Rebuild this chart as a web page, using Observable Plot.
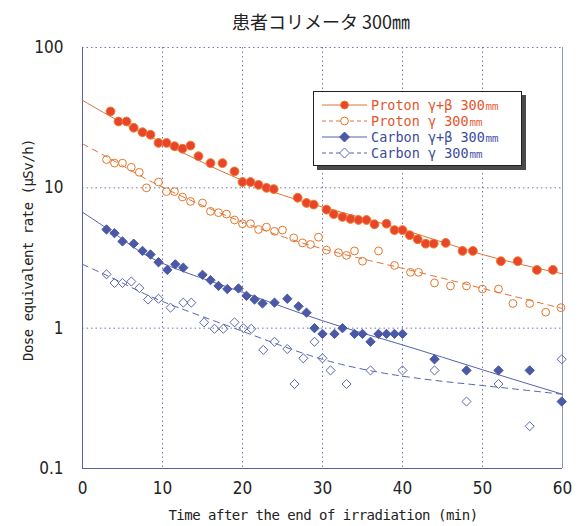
<!DOCTYPE html>
<html>
<head>
<meta charset="utf-8">
<script src="https://cdn.jsdelivr.net/npm/d3@7"></script>
<script src="https://cdn.jsdelivr.net/npm/@observablehq/plot@0.6"></script>
<style>
  body { margin: 0; background: #fff; }
  #chart { position: relative; width: 581px; height: 526px; overflow: hidden; background: #fff; }
  #chart svg.plot { position: absolute; left: 0; top: 0; }
  .title { position: absolute; left: 0; width: 642px; top: 9px; text-align: center;
           font-family: "Noto Sans CJK JP", sans-serif; font-size: 18px; color: #222; line-height: 24px; }
  .mono { font-family: "DejaVu Sans Mono", "Liberation Mono", monospace; font-size: 14px;
          letter-spacing: -0.5px; color: #222; white-space: nowrap; }
  .xtitle { position: absolute; left: 0; width: 646px; top: 505px; text-align: center; line-height: 20px; }
  .ytitle { position: absolute; left: 28px; top: 250px; transform: translate(-50%, -50%) rotate(-90deg);
            line-height: 20px; }
  #legend { position: absolute; left: 313px; top: 91px; width: 207px; height: 73px;
            border: 1.5px solid #222; background: #fff; box-shadow: 4px 4px 0 #4a4a4a; }
  #legend .row { position: absolute; left: 6px; height: 14px; display: flex; align-items: center; }
  #legend .row span { display: inline-block; height: 14px; line-height: 14px; margin-left: 3px;
                      font-size: 13.5px; letter-spacing: 0px; }
</style>
</head>
<body>
<div id="chart">
  <div class="title">患者コリメータ 300㎜</div>
  <div class="mono xtitle">Time after the end of irradiation (min)</div>
  <div class="mono ytitle">Dose equivalent rate (μSv/h)</div>
</div>
<script>
// Axis ticks
const xTicks = [0, 10, 20, 30, 40, 50, 60];
const xGrid = [10, 20, 30, 40, 50];
const yTicks = [0.1, 1, 10, 100];
const yTickLabels = ["0.1", "1", "10", "100"];
const yGrid = [1, 10, 100];

// Proton γ+β, 300 mm collimator (filled circles)
const protonGBTime = [3.5, 4.5, 5.5, 6.4, 7.5, 8.5, 9.5, 10.5, 11.5, 12.5, 13.5, 14.5, 16, 17.5, 19, 20, 21, 22, 23, 23.9,
  26.9, 28, 28.9, 30.5, 31.4, 32.5, 33.5, 34.5, 35.5, 36.5, 38, 39, 40, 40.9, 41.9, 42.9, 43.9, 45.4, 47.5, 48.8,
  52.3, 54.4, 56.8, 58.8];
const protonGBRate = [35.0, 29.7, 29.7, 26.8, 24.9, 23.9, 20.9, 20.9, 19.8, 19.0, 20.0, 16.8, 15.0, 15.0, 13.1, 11.0, 11.0, 10.5, 10.0, 9.8,
  8.5, 7.8, 7.6, 7.0, 6.5, 6.2, 6.0, 5.9, 5.9, 5.5, 5.55, 5.0, 5.0, 4.6, 4.3, 4.0, 4.0, 4.05, 3.55, 3.55,
  3.0, 3.0, 2.6, 2.6];

// Proton γ only (open circles)
const protonGTime = [3.0, 4.0, 5.0, 6.1, 7.1, 8.0, 9.5, 10.5, 11.5, 12.5, 13.5, 15.0, 16.0, 17.0, 18.0, 19.0, 20.0, 21.0, 22.0, 23.0,
  24.0, 25.0, 26.4, 27.5, 28.5, 29.5, 30.5, 32.0, 33.0, 34.0, 35.0, 37.0, 39.0, 41.0, 42.0, 44.0, 46.0, 48.0, 50.0, 52.0,
  53.8, 55.9, 57.9, 59.8];
const protonGRate = [15.9, 15.0, 15.0, 14.0, 12.9, 10.0, 11.0, 9.4, 9.4, 8.6, 8.0, 7.8, 6.8, 6.65, 6.5, 5.9, 5.55, 5.55, 5.05, 5.25,
  4.9, 5.0, 4.4, 4.05, 3.95, 4.45, 3.6, 3.45, 3.3, 3.55, 3.0, 3.55, 2.8, 2.5, 2.5, 2.1, 2.0, 2.0, 1.9, 1.9,
  1.5, 1.5, 1.3, 1.4];

// Carbon γ+β (filled diamonds)
const carbonGBTime = [3.0, 4.0, 5.0, 6.4, 7.5, 8.5, 9.5, 10.6, 11.6, 12.6, 15.0, 16.0, 17.0, 18.1, 19.5, 20.5, 21.5, 22.5, 24.0, 25.6,
  27.0, 28.0, 29.0, 30.0, 31.5, 32.5, 34.0, 35.0, 36.0, 37.0, 38.0, 39.0, 40.0, 44.0, 48.0, 52.0, 55.9, 59.9];
const carbonGBRate = [5.05, 4.75, 4.15, 4.0, 3.55, 3.35, 2.95, 2.6, 2.85, 2.7, 2.4, 2.2, 2.0, 1.9, 1.92, 1.7, 1.6, 1.5, 1.52, 1.62,
  1.43, 1.29, 1.0, 0.91, 0.91, 1.0, 0.91, 0.91, 0.8, 0.91, 0.91, 0.91, 0.91, 0.6, 0.5, 0.5, 0.5, 0.3];

// Carbon γ only (open diamonds)
const carbonGTime = [3.0, 4.0, 5.0, 6.1, 7.1, 8.2, 9.5, 11.0, 12.6, 13.6, 15.2, 16.5, 17.6, 19.0, 20.1, 21.1, 22.6, 24.0, 25.6,
  26.5, 27.6, 29.0, 30.0, 31.0, 33.0, 36.0, 40.0, 44.0, 48.0, 52.0, 55.9, 59.9];
const carbonGRate = [2.42, 2.1, 2.1, 2.15, 1.93, 1.6, 1.62, 1.4, 1.52, 1.52, 1.1, 0.99, 0.99, 1.1, 1.0, 0.99, 0.7, 0.8, 0.71,
  0.4, 0.61, 0.8, 0.61, 0.5, 0.4, 0.5, 0.5, 0.5, 0.3, 0.4, 0.2, 0.6];

// Decay-curve fits
const protonGBFitTime = [0, 5, 10, 20, 30, 40, 50, 60];
const protonGBFitRate = [42, 29, 21, 11.3, 7.3, 5.05, 3.35, 2.44];
const protonGFitTime = [0, 5, 10, 20, 30, 40, 50, 60];
const protonGFitRate = [20.6, 14.4, 10.1, 5.7, 3.68, 2.67, 1.92, 1.38];
const carbonGBFitTime = [0, 5, 10, 20, 30, 40, 50, 60];
const carbonGBFitRate = [6.7, 4.3, 2.9, 1.8, 1.13, 0.76, 0.505, 0.338];
const carbonGFitTime = [0, 5, 10, 20, 30, 40, 50, 60];
const carbonGFitRate = [2.85, 2.1, 1.55, 0.95, 0.60, 0.455, 0.39, 0.338];

// Series styling
const colors = {
  protonFill: "#e8452f", protonRim: "#f27b22", protonLine: "#d9743c", protonOpen: "#e4772a",
  carbonFill: "#4a58a6", carbonLine: "#5563ab", carbonOpen: "#5a68ae",
  protonText: "#e6552b", carbonText: "#3d4b9c"
};
const legendItems = [
  {label: "Proton γ+β 300㎜", text: colors.protonText, line: colors.protonLine, dash: null, symbol: "circle", fill: colors.protonFill, stroke: colors.protonRim},
  {label: "Proton γ 300㎜", text: colors.protonText, line: colors.protonLine, dash: "4,3", symbol: "circle", fill: "none", stroke: colors.protonOpen},
  {label: "Carbon γ+β 300㎜", text: colors.carbonText, line: colors.carbonLine, dash: null, symbol: "diamond", fill: colors.carbonFill, stroke: colors.carbonFill},
  {label: "Carbon γ 300㎜", text: colors.carbonText, line: colors.carbonLine, dash: "4,3", symbol: "diamond", fill: "none", stroke: colors.carbonOpen}
];

const rows = (t, v) => t.map((d, i) => ({t: d, v: v[i]}));

const plot = Plot.plot({
  width: 581,
  height: 526,
  marginTop: 47,
  marginBottom: 58,
  marginLeft: 82,
  marginRight: 19,
  style: {fontFamily: '"Liberation Sans Narrow", "DejaVu Sans Condensed", sans-serif', fontSize: "17px", color: "#222", background: "transparent"},
  x: {domain: [0, 60], label: null},
  y: {type: "log", domain: [0.1, 100], label: null},
  marks: [
    Plot.gridX(xGrid, {stroke: "#6f78ad", strokeOpacity: 1, strokeDasharray: "1.5,3"}),
    Plot.gridY(yGrid, {stroke: "#6f78ad", strokeOpacity: 1, strokeDasharray: "1.5,3"}),
    Plot.ruleX([60], {stroke: "#8d95c4"}),
    Plot.ruleX([0], {stroke: "#5661a8"}),
    Plot.ruleY([0.1], {stroke: "#5661a8"}),
    Plot.axisX(xTicks, {tickSize: 0, tickPadding: 13, label: null}),
    Plot.axisY(yTicks, {tickSize: 0, tickPadding: 19, label: null,
      tickFormat: d => yTickLabels[yTicks.indexOf(d)]}),

    Plot.line(rows(protonGBFitTime, protonGBFitRate), {x: "t", y: "v", curve: "natural", stroke: colors.protonLine, strokeWidth: 1}),
    Plot.line(rows(protonGFitTime, protonGFitRate), {x: "t", y: "v", curve: "natural", stroke: colors.protonLine, strokeWidth: 1, strokeDasharray: "6,5"}),
    Plot.line(rows(carbonGBFitTime, carbonGBFitRate), {x: "t", y: "v", curve: "natural", stroke: colors.carbonLine, strokeWidth: 1}),
    Plot.line(rows(carbonGFitTime, carbonGFitRate), {x: "t", y: "v", curve: "natural", stroke: colors.carbonLine, strokeWidth: 1, strokeDasharray: "6,5"}),

    Plot.dot(rows(protonGTime, protonGRate), {x: "t", y: "v", r: 3.9, fill: "none", stroke: colors.protonOpen, strokeWidth: 1}),
    Plot.dot(rows(carbonGTime, carbonGRate), {x: "t", y: "v", r: 4.1, symbol: "diamond2", fill: "none", stroke: colors.carbonOpen, strokeWidth: 1}),
    Plot.dot(rows(carbonGBTime, carbonGBRate), {x: "t", y: "v", r: 4.2, symbol: "diamond2", fill: colors.carbonFill, stroke: colors.carbonFill, strokeWidth: 1}),
    Plot.dot(rows(protonGBTime, protonGBRate), {x: "t", y: "v", r: 4.4, fill: colors.protonFill, stroke: colors.protonRim, strokeWidth: 1})
  ]
});
plot.classList.add("plot");
const chart = document.getElementById("chart");
chart.insertBefore(plot, chart.firstChild);

// Legend box
const legend = document.createElement("div");
legend.id = "legend";
const ns = "http://www.w3.org/2000/svg";
legendItems.forEach((item, i) => {
  const row = document.createElement("div");
  row.className = "row";
  row.style.top = (6 + i * 16) + "px";
  const svg = document.createElementNS(ns, "svg");
  svg.setAttribute("width", 48);
  svg.setAttribute("height", 14);
  const line = document.createElementNS(ns, "line");
  line.setAttribute("x1", 2); line.setAttribute("x2", 47);
  line.setAttribute("y1", 7); line.setAttribute("y2", 7);
  line.setAttribute("stroke", item.line);
  if (item.dash) line.setAttribute("stroke-dasharray", item.dash);
  svg.appendChild(line);
  let shape;
  if (item.symbol === "circle") {
    shape = document.createElementNS(ns, "circle");
    shape.setAttribute("cx", 24.5); shape.setAttribute("cy", 7); shape.setAttribute("r", 3.9);
  } else {
    shape = document.createElementNS(ns, "path");
    shape.setAttribute("d", "M24.5,2L29.5,7L24.5,12L19.5,7Z");
  }
  shape.setAttribute("fill", item.fill === "none" ? "#fff" : item.fill);
  shape.setAttribute("stroke", item.stroke);
  svg.appendChild(shape);
  const span = document.createElement("span");
  span.className = "mono";
  span.style.color = item.text;
  span.textContent = item.label;
  row.appendChild(svg);
  row.appendChild(span);
  legend.appendChild(row);
});
chart.appendChild(legend);
</script>
</body>
</html>
